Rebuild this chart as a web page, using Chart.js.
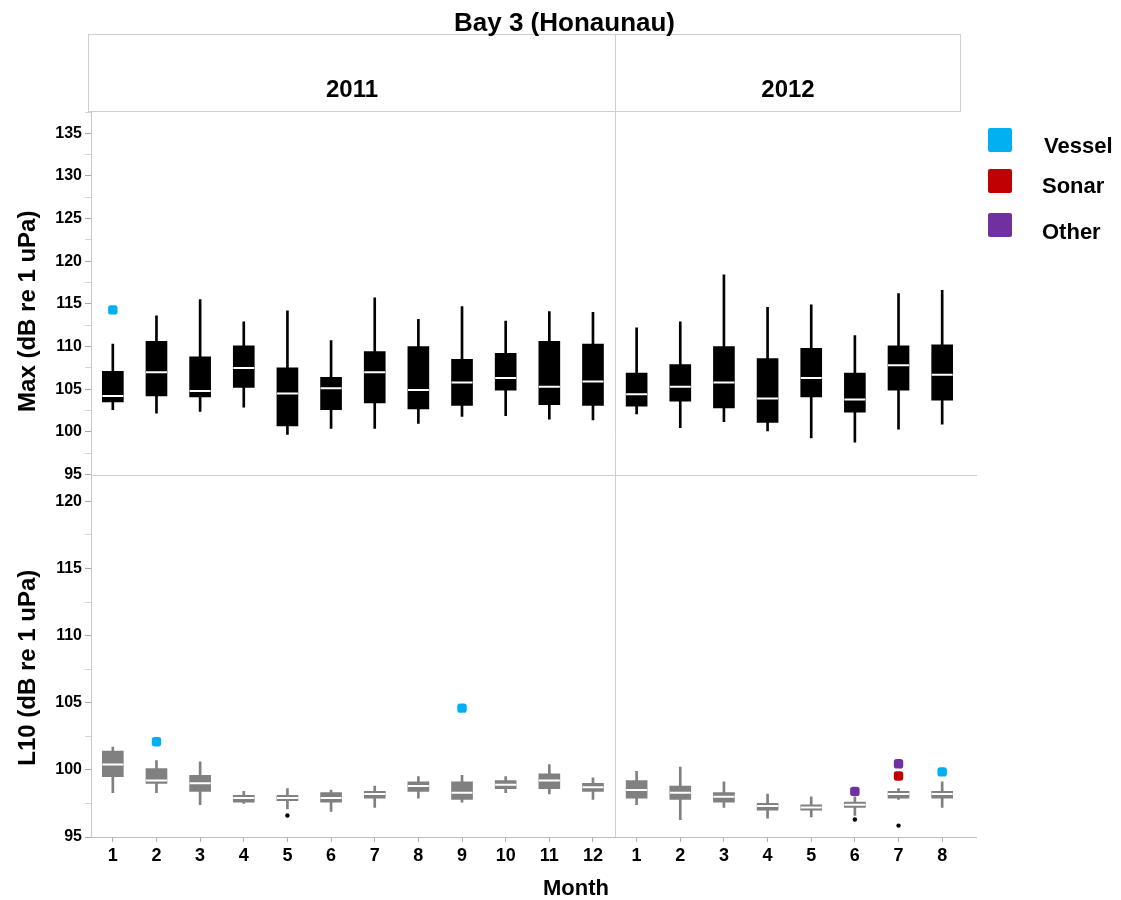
<!DOCTYPE html>
<html>
<head>
<meta charset="utf-8">
<script src="https://cdn.jsdelivr.net/npm/chart.js@4.4.0/dist/chart.umd.min.js"></script>
<style>
html, body { margin: 0; padding: 0; background: #fff; }
</style>
</head>
<body>
<canvas id="boxChart" width="1121" height="900"></canvas>
<script>

const monthLabels = ["1","2","3","4","5","6","7","8","9","10","11","12","1","2","3","4","5","6","7","8"];
const yearLabels = ["2011", "2012"];
const monthsPerYear = [12, 8];

// Max (dB re 1 uPa)
const maxLow  = [102.6,102.2,102.4,102.9, 99.7,100.4,100.4,101.0,101.8,101.9,101.5,101.4, 102.1,100.5,101.2,100.1, 99.3, 98.8,100.3,100.9];
const maxQ1   = [103.5,104.2,104.1,105.2,100.7,102.6,103.4,102.7,103.1,104.9,103.2,103.1, 103.0,103.6,102.8,101.1,104.1,102.3,104.9,103.7];
const maxMed  = [104.2,107.0,104.8,107.5,104.5,105.1,107.0,104.9,105.8,106.3,105.3,105.9, 104.4,105.3,105.8,103.9,106.3,103.8,107.8,106.7];
const maxQ3   = [107.1,110.6,108.8,110.1,107.5,106.4,109.4,110.0,108.5,109.2,110.6,110.3, 106.9,107.9,110.0,108.6,109.8,106.9,110.1,110.2];
const maxHigh = [110.3,113.6,115.5,112.9,114.2,110.7,115.7,113.2,114.7,113.0,114.1,114.0, 112.2,112.9,118.4,114.6,114.9,111.3,116.2,116.6];

// L10 (dB re 1 uPa)
const l10Low  = [98.3,98.3,97.4,97.5,97.1,96.9,97.2,97.9,97.6,98.3,98.2,97.8, 97.4,96.3,97.2,96.4,96.5,96.6,97.8,97.2];
const l10Q1   = [99.5,99.0,98.4,97.6,97.7,97.6,97.9,98.4,97.8,98.6,98.6,98.4, 97.9,97.8,97.6,97.0,97.0,97.2,97.9,97.9];
const l10Med  = [100.4,99.2,99.0,97.9,97.9,97.9,98.2,98.8,98.3,98.9,99.2,98.7, 98.5,98.3,98.0,97.3,97.2,97.4,98.2,98.2];
const l10Q3   = [101.4,100.1,99.6,98.1,98.1,98.3,98.4,99.1,99.1,99.2,99.7,99.0, 99.2,98.8,98.3,97.5,97.4,97.6,98.4,98.4];
const l10High = [101.7,100.7,100.6,98.4,98.6,98.5,98.8,99.5,99.6,99.5,100.4,99.4, 99.9,100.2,99.1,98.2,98.0,98.0,98.6,99.1];

// flagged events
const vesselMax = [114.3,null,null,null,null,null,null,null,null,null,null,null, null,null,null,null,null,null,null,null];
const vesselL10 = [null,102.1,null,null,null,null,null,null,104.6,null,null,null, null,null,null,null,null,null,null,99.85];
const sonarL10  = [null,null,null,null,null,null,null,null,null,null,null,null, null,null,null,null,null,null,99.55,null];
const otherL10  = [null,null,null,null,null,null,null,null,null,null,null,null, null,null,null,null,null,98.4,100.45,null];
const extremeL10 = [null,null,null,null,96.6,null,null,null,null,null,null,null, null,null,null,null,null,96.3,95.85,null];

const VESSEL = "#00b0f0";
const SONAR = "#c00000";
const OTHER = "#7030a0";
const FONT = "'Liberation Sans', Arial, sans-serif";

function boxSets(axis, low, q1, med, q3, high, color) {
    return [
        {
            type: "bar", label: "whisker", yAxisID: axis,
            data: low.map((v, i) => [v, high[i]]),
            backgroundColor: color, barThickness: 2, grouped: false, order: 5
        },
        {
            type: "bar", label: "box", yAxisID: axis,
            data: q1.map((v, i) => [v, q3[i]]),
            backgroundColor: color, barThickness: 21, grouped: false, order: 4
        },
        {
            type: "line", label: "median", yAxisID: axis, data: med,
            showLine: false, pointStyle: "line", pointRadius: 10.5,
            pointBorderWidth: 2, pointBorderColor: "#ffffff", order: 3
        }
    ];
}

function flagSet(label, axis, data, color, style, radius) {
    return {
        type: "line", label: label, yAxisID: axis, data: data,
        showLine: false, pointStyle: style, pointRadius: radius,
        pointBackgroundColor: color, pointBorderColor: color, pointBorderWidth: 0,
        order: 1
    };
}

function yAxis(min, max, weight) {
    return {
        type: "linear",
        position: "left",
        stack: "panels",
        stackWeight: 1,
        weight: weight,
        min: min,
        max: max,
        grid: {
            drawOnChartArea: false,
            tickLength: 6,
            color: c => (c.tick && c.tick.value % 5 === 0) ? "#a8a8a8" : "#d4d4d4"
        },
        border: { color: "#c8c8c8" },
        ticks: {
            stepSize: 2.5,
            includeBounds: false,
            autoSkip: false,
            padding: 3,
            color: "#000",
            font: { family: FONT, size: 16, weight: "bold" },
            callback: v => v % 5 === 0 ? v : ""
        },
        afterFit: s => { s.width = 91; }
    };
}

const facetPlugin = {
    id: "facetFrame",
    afterDraw(chart) {

        const { ctx, chartArea, scales } = chart;
        const x = scales.x;
        const split = Math.round((x.getPixelForValue(monthsPerYear[0] - 1) + x.getPixelForValue(monthsPerYear[0])) / 2) + 0.5;
        const left = chartArea.left - 2.5;
        const right = chartArea.right - 3.5;
        const stripTop = 34.5;
        const stripBottom = chartArea.top - 0.5;
        const sepY = Math.round(scales.yTop.getPixelForValue(95)) + 0.5;

        ctx.save();

        ctx.strokeStyle = "#cfcfcf";
        ctx.lineWidth = 1;
        ctx.strokeRect(left, stripTop, right - left, stripBottom - stripTop);

        ctx.beginPath();
        ctx.moveTo(split, stripTop);
        ctx.lineTo(split, chartArea.bottom);
        ctx.moveTo(chartArea.left, sepY);
        ctx.lineTo(chartArea.right + 13, sepY);
        ctx.stroke();

        // x axis line runs a little past the last month
        ctx.strokeStyle = "#bdbdbd";
        ctx.beginPath();
        ctx.moveTo(chartArea.right, Math.round(chartArea.bottom) + 0.5);
        ctx.lineTo(chartArea.right + 13, Math.round(chartArea.bottom) + 0.5);
        ctx.stroke();

        ctx.fillStyle = "#000";
        ctx.textAlign = "center";
        ctx.textBaseline = "alphabetic";

        ctx.font = "bold 26px " + FONT;
        ctx.fillText("Bay 3 (Honaunau)", chart.width / 2 + 4, 31);

        ctx.font = "bold 24px " + FONT;
        ctx.fillText(yearLabels[0], (left + split) / 2, 97);
        ctx.fillText(yearLabels[1], (split + right) / 2, 97);

        ctx.font = "bold 22px " + FONT;
        ctx.fillText("Month", chartArea.left + 485, 895);

        // panel titles
        ctx.font = "bold 24px " + FONT;
        ctx.textBaseline = "middle";
        const panels = [["Max (dB re 1 uPa)", scales.yTop, 18], ["L10 (dB re 1 uPa)", scales.yBot, 12]];
        panels.forEach(p => {
            ctx.save();
            ctx.translate(28, (p[1].top + p[1].bottom) / 2 + p[2]);
            ctx.rotate(-Math.PI / 2);
            ctx.fillText(p[0], 0, 0);
            ctx.restore();
        });

        // legend
        const items = [["Vessel", VESSEL, 128, 1044, 153], ["Sonar", SONAR, 169, 1042, 193], ["Other", OTHER, 213, 1042, 239]];
        ctx.textAlign = "left";
        ctx.textBaseline = "alphabetic";
        ctx.font = "bold 22px " + FONT;
        items.forEach(it => {
            ctx.fillStyle = it[1];
            ctx.beginPath();
            ctx.roundRect(988, it[2], 24, 24, 2);
            ctx.fill();
            ctx.fillStyle = "#000";
            ctx.fillText(it[0], it[3], it[4]);
        });

        ctx.restore();
    }
};

const chart = new Chart(document.getElementById("boxChart"), {
    type: "bar",
    data: {
        labels: monthLabels,
        datasets: [
            ...boxSets("yTop", maxLow, maxQ1, maxMed, maxQ3, maxHigh, "#000000"),
            ...boxSets("yBot", l10Low, l10Q1, l10Med, l10Q3, l10High, "#808080"),
            flagSet("Vessel", "yTop", vesselMax, VESSEL, "rectRounded", 5.5),
            flagSet("Vessel", "yBot", vesselL10, VESSEL, "rectRounded", 5.5),
            flagSet("Sonar", "yBot", sonarL10, SONAR, "rectRounded", 5.5),
            flagSet("Other", "yBot", otherL10, OTHER, "rectRounded", 5.5),
            flagSet("Extreme", "yBot", extremeL10, "#000000", "circle", 2.2)
        ]
    },
    options: {
        responsive: false,
        animation: false,
        devicePixelRatio: 1,
        events: [],
        layout: { padding: { left: 0, right: 157, top: 112, bottom: 0 } },
        plugins: {
            legend: { display: false },
            tooltip: { enabled: false },
            title: { display: false }
        },
        scales: {
            x: {
                type: "category",
                offset: true,
                grid: { drawOnChartArea: false, offset: false, tickLength: 5, color: "#b0b0b0" },
                border: { color: "#bdbdbd" },
                ticks: {
                    autoSkip: false,
                    maxRotation: 0,
                    padding: 3,
                    color: "#000",
                    font: { family: FONT, size: 18, weight: "bold" }
                },
                afterFit: s => { s.height = 63; }
            },
            yTop: yAxis(95, 137.5, 1),
            yBot: yAxis(95, 122, 0)
        }
    },
    plugins: [facetPlugin]
});

</script>
</body>
</html>
